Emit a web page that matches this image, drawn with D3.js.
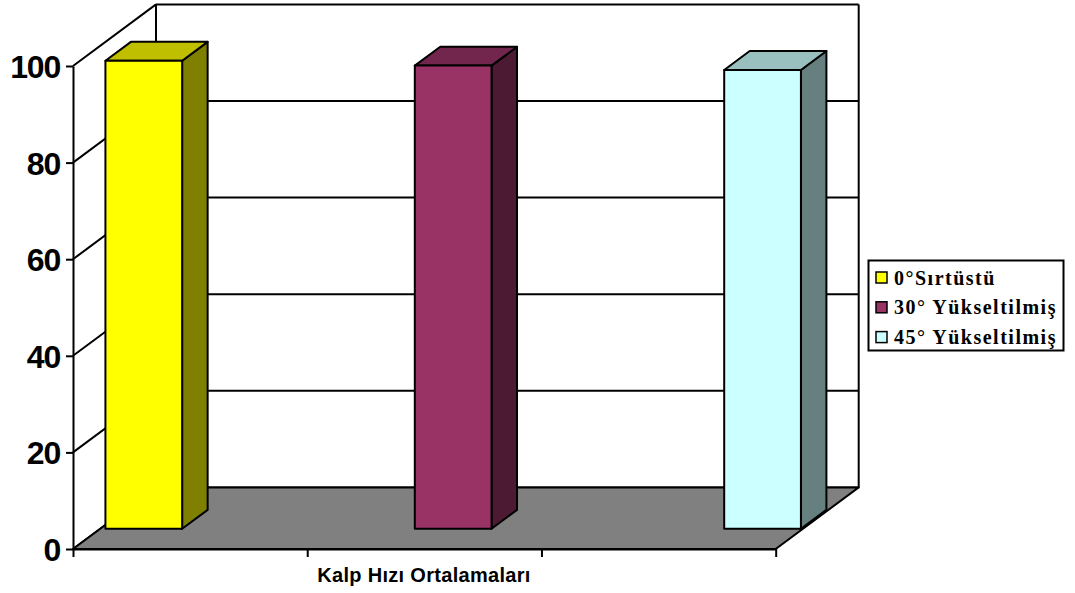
<!DOCTYPE html>
<html>
<head>
<meta charset="utf-8">
<title>Kalp Hızı Ortalamaları</title>
<script src="https://cdn.jsdelivr.net/npm/d3@7"></script>
<style>
  html, body { margin: 0; padding: 0; background: #fff; }
  svg { display: block; }
</style>
</head>
<body>
<div id="container"></div>
<script>
const WIDTH = 1075;
const HEIGHT = 593;

const seriesNames = ["0°Sırtüstü", "30° Yükseltilmiş", "45° Yükseltilmiş"];
const seriesValues = [96.9, 95.9, 95.0];
const yTicks = [0, 20, 40, 60, 80, 100];
const xTickSlots = [0, 1, 2, 3];
const xLabel = "Kalp Hızı Ortalamaları";

const colors = ["#ffff00", "#993366", "#ccffff"];

// oblique projection of the box: depth 0 is the front plane, 1 the back wall
const DEPTH_X = 83;
const DEPTH_Y = 61.6;
const BAR_FRONT = 0.328;
const BAR_BACK = 0.635;

const svg = d3
  .select("div#container")
  .append("svg")
  .attr("width", WIDTH)
  .attr("height", HEIGHT);

const yScale = d3.scaleLinear().domain([0, 100]).range([549, 66]);
const xSlots = d3.scaleLinear().domain([0, 3]).range([73, 775.7]);
const xBars = d3
  .scaleBand()
  .domain(seriesNames)
  .range([78.2, 773.7])
  .paddingInner(0.752)
  .paddingOuter(0);

const px = (x, depth) => x + depth * DEPTH_X;
const py = (v, depth) => yScale(v) - depth * DEPTH_Y;
const pt = (x, v, depth) => [px(x, depth), py(v, depth)];
const poly = (points) => d3.line()(points) + "Z";

const shade = (c, k) => {
  const r = d3.rgb(c);
  return d3.rgb(r.r * k, r.g * k, r.b * k).formatHex();
};

const x0 = xSlots(0);
const x1 = xSlots(3);

// walls
const walls = svg
  .append("g")
  .attr("fill", "none")
  .attr("stroke", "#000")
  .attr("stroke-width", 2);

walls
  .selectAll("path.left")
  .data(yTicks)
  .enter()
  .append("path")
  .attr("class", "left")
  .attr("d", (d) => d3.line()([pt(x0, d, 0), pt(x0, d, 1)]));

walls
  .selectAll("path.back")
  .data(yTicks)
  .enter()
  .append("path")
  .attr("class", "back")
  .attr("d", (d) => d3.line()([pt(x0, d, 1), pt(x1, d, 1)]));

walls
  .append("path")
  .attr("d", d3.line()([pt(x0, 0, 1), pt(x0, 100, 1)]));
walls
  .append("path")
  .attr("d", d3.line()([pt(x1, 0, 1), pt(x1, 100, 1)]));

// floor
svg
  .append("path")
  .attr("d", poly([pt(x0, 0, 0), pt(x1, 0, 0), pt(x1, 0, 1), pt(x0, 0, 1)]))
  .attr("fill", "#808080")
  .attr("stroke", "#000")
  .attr("stroke-width", 2)
  .attr("stroke-linejoin", "round");

// bars
const bars = svg
  .selectAll("g.bar")
  .data(seriesNames.map((name, i) => ({ name, value: seriesValues[i], color: colors[i] })))
  .enter()
  .append("g")
  .attr("class", "bar")
  .attr("stroke", "#000")
  .attr("stroke-width", 2)
  .attr("stroke-linejoin", "round");

bars
  .append("path")
  .attr("fill", (d) => shade(d.color, 0.5))
  .attr("d", (d) => {
    const r = xBars(d.name) + xBars.bandwidth();
    return poly([
      pt(r, 0, BAR_FRONT),
      pt(r, 0, BAR_BACK),
      pt(r, d.value, BAR_BACK),
      pt(r, d.value, BAR_FRONT),
    ]);
  });

bars
  .append("path")
  .attr("fill", (d) => shade(d.color, 0.75))
  .attr("d", (d) => {
    const l = xBars(d.name);
    const r = l + xBars.bandwidth();
    return poly([
      pt(l, d.value, BAR_FRONT),
      pt(r, d.value, BAR_FRONT),
      pt(r, d.value, BAR_BACK),
      pt(l, d.value, BAR_BACK),
    ]);
  });

bars
  .append("path")
  .attr("fill", (d) => d.color)
  .attr("d", (d) => {
    const l = xBars(d.name);
    const r = l + xBars.bandwidth();
    return poly([
      pt(l, 0, BAR_FRONT),
      pt(r, 0, BAR_FRONT),
      pt(r, d.value, BAR_FRONT),
      pt(l, d.value, BAR_FRONT),
    ]);
  });

// axes
const yAxis = d3
  .axisLeft(yScale)
  .tickValues(yTicks)
  .tickSize(7)
  .tickSizeOuter(0)
  .tickPadding(6);

const yG = svg
  .append("g")
  .attr("transform", `translate(${x0}, 0)`)
  .call(yAxis);

yG.selectAll("path, line").attr("stroke", "#000").attr("stroke-width", 2);
yG.selectAll("text")
  .attr("font-family", "'Liberation Sans', Arial, sans-serif")
  .attr("font-weight", "bold")
  .attr("font-size", 32)
  .attr("letter-spacing", -1.2)
  .attr("fill", "#000")
  .attr("dy", "0.36em");

const xAxis = d3
  .axisBottom(xSlots)
  .tickValues(xTickSlots)
  .tickSize(8)
  .tickSizeOuter(0)
  .tickFormat("");

const xG = svg
  .append("g")
  .attr("transform", `translate(0, ${yScale(0)})`)
  .call(xAxis);

xG.selectAll("path, line").attr("stroke", "#000").attr("stroke-width", 2);

svg
  .append("text")
  .attr("x", 424)
  .attr("y", 582)
  .attr("text-anchor", "middle")
  .attr("font-family", "'Liberation Sans', Arial, sans-serif")
  .attr("font-weight", "bold")
  .attr("font-size", 20)
  .attr("letter-spacing", 0.3)
  .attr("fill", "#000")
  .text(xLabel);

// legend
const legend = svg.append("g").attr("transform", "translate(868, 260)");

legend
  .append("rect")
  .attr("x", 0.5)
  .attr("y", 0.5)
  .attr("width", 195)
  .attr("height", 90)
  .attr("fill", "#fff")
  .attr("stroke", "#000")
  .attr("stroke-width", 2);

const rows = legend
  .selectAll("g.row")
  .data(seriesNames)
  .enter()
  .append("g")
  .attr("class", "row")
  .attr("transform", (_, i) => `translate(0, ${19 + i * 29.8})`);

rows
  .append("rect")
  .attr("x", 8)
  .attr("y", -7)
  .attr("width", 11)
  .attr("height", 11)
  .attr("fill", (_, i) => colors[i])
  .attr("stroke", "#000")
  .attr("stroke-width", 1.5);

rows
  .append("text")
  .attr("x", 26)
  .attr("y", 5.5)
  .attr("font-family", "'Liberation Serif', 'Times New Roman', serif")
  .attr("font-weight", "bold")
  .attr("font-size", 20)
  .attr("letter-spacing", 1.5)
  .attr("fill", "#000")
  .text((d) => d);
</script>
</body>
</html>
